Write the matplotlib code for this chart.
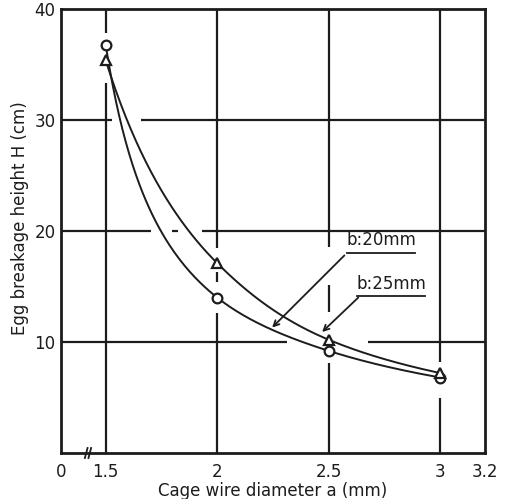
import numpy as np
import matplotlib
matplotlib.use("Agg")
import matplotlib.pyplot as plt

# ---- data ----
diameter = [1.5, 2.0, 2.5, 3.0]                 # cage wire diameter a (mm)
h_b20 = [36.8, 14.0, 9.2, 6.8]                  # b:20mm (circles)
h_b25 = [35.4, 17.1, 10.2, 7.2]                 # b:25mm (triangles)
x_ticks = [1.3, 1.5, 2.0, 2.5, 3.0, 3.2]
x_tick_labels = ["0", "1.5", "2", "2.5", "3", "3.2"]
y_ticks = [10, 20, 30, 40]
y_tick_labels = ["10", "20", "30", "40"]

INK = "#1c1c1c"


def pchip(x, y, xs):
    """Shape-preserving cubic (Fritsch-Carlson) for a smooth hand-drawn-like curve."""
    x = np.asarray(x, float); y = np.asarray(y, float)
    h = np.diff(x); d = np.diff(y) / h
    n = len(x); m = np.zeros(n)
    for k in range(1, n - 1):
        if d[k - 1] * d[k] > 0:
            w1 = 2 * h[k] + h[k - 1]; w2 = h[k] + 2 * h[k - 1]
            m[k] = (w1 + w2) / (w1 / d[k - 1] + w2 / d[k])
    m[0] = ((2 * h[0] + h[1]) * d[0] - h[0] * d[1]) / (h[0] + h[1])
    m[-1] = ((2 * h[-1] + h[-2]) * d[-1] - h[-1] * d[-2]) / (h[-1] + h[-2])
    out = np.empty_like(xs)
    for i, xv in enumerate(xs):
        k = min(max(np.searchsorted(x, xv) - 1, 0), n - 2)
        t = (xv - x[k]) / h[k]
        h00 = 2 * t**3 - 3 * t**2 + 1; h10 = t**3 - 2 * t**2 + t
        h01 = -2 * t**3 + 3 * t**2; h11 = t**3 - t**2
        out[i] = h00 * y[k] + h10 * h[k] * m[k] + h01 * y[k + 1] + h11 * h[k] * m[k + 1]
    return out


def smooth(x, y):
    xs = np.linspace(x[0], x[-1], 200)
    inv = pchip(x, 1.0 / np.asarray(y, float), xs)
    return xs, 1.0 / inv


fig = plt.figure(figsize=(5.06, 4.99), dpi=100)
ax = fig.add_axes([61 / 506, 1 - 453 / 499, (485 - 61) / 506, (453 - 9) / 499])
ax.set_xlim(1.3, 3.2)
ax.set_ylim(0, 40)

# grid lines with hand-drawn gaps (style only)
v_segments = {1.5: [(37.8, 40), (0, 33.3)],
              2.0: [(18.5, 40), (15.4, 16.3), (0, 12.6)],
              2.5: [(18.6, 40), (12.7, 15.1), (0, 8.1)],
              3.0: [(8.2, 40), (0, 5.0)]}
h_segments = {30: [(1.3, 1.529), (1.659, 3.2)],
              20: [(1.3, 1.704), (1.798, 1.825), (1.932, 3.2)],
              10: [(1.3, 2.313), (2.677, 3.2)]}
for xv, segs in v_segments.items():
    for a, b in segs:
        ax.plot([xv, xv], [a, b], color=INK, lw=1.6, solid_capstyle="butt", zorder=1)
for yv, segs in h_segments.items():
    for a, b in segs:
        ax.plot([a, b], [yv, yv], color=INK, lw=1.6, solid_capstyle="butt", zorder=1)

# curves
xs, ys = smooth(diameter, h_b20)
ax.plot(xs, ys, color=INK, lw=1.4, zorder=2)
xs, ys = smooth(diameter, h_b25)
ax.plot(xs, ys, color=INK, lw=1.4, zorder=2)
ax.plot(diameter, h_b20, linestyle="none", marker="o", ms=7, mfc="white",
        mec=INK, mew=1.6, zorder=3)
ax.plot(diameter, h_b25, linestyle="none", marker="^", ms=6.5, mfc="white",
        mec=INK, mew=1.6, zorder=3)

# annotations
fs = 12
ax.annotate("", xy=(2.246, 11.3), xytext=(2.57, 17.8),
            arrowprops=dict(arrowstyle="->", color=INK, lw=1.3,
                            mutation_scale=10, shrinkA=0, shrinkB=0))
ax.plot([2.583, 2.887], [18.0, 18.0], color=INK, lw=1.3)
ax.text(2.735, 18.35, "b:20mm", ha="center", va="bottom", fontsize=fs, color=INK)

ax.annotate("", xy=(2.47, 10.9), xytext=(2.632, 14.0),
            arrowprops=dict(arrowstyle="->", color=INK, lw=1.3,
                            mutation_scale=10, shrinkA=0, shrinkB=0))
ax.plot([2.627, 2.932], [14.1, 14.1], color=INK, lw=1.3)
ax.text(2.78, 14.45, "b:25mm", ha="center", va="bottom", fontsize=fs, color=INK)

# axis break mark on x axis
for dx in (-0.008, 0.008):
    ax.plot([1.421 + dx - 0.006, 1.421 + dx + 0.006], [-0.45, 0.45], color=INK,
            lw=1.3, clip_on=False, zorder=5)

# ticks & labels
ax.set_xticks(x_ticks)
ax.set_xticklabels(x_tick_labels)
ax.set_yticks(y_ticks)
ax.set_yticklabels(y_tick_labels)
ax.tick_params(axis="both", length=0, labelsize=fs, colors=INK)
ax.tick_params(axis="x", pad=7)
ax.tick_params(axis="y", pad=4)
for s in ax.spines.values():
    s.set_linewidth(2)
    s.set_color(INK)

ax.set_xlabel("Cage wire diameter a (mm)", fontsize=fs, color=INK, labelpad=1)
ax.set_ylabel("Egg breakage height H (cm)", fontsize=fs, color=INK)
ax.yaxis.set_label_coords(-0.076, 0.53)

fig.savefig("out.png", dpi=100, facecolor="white")
